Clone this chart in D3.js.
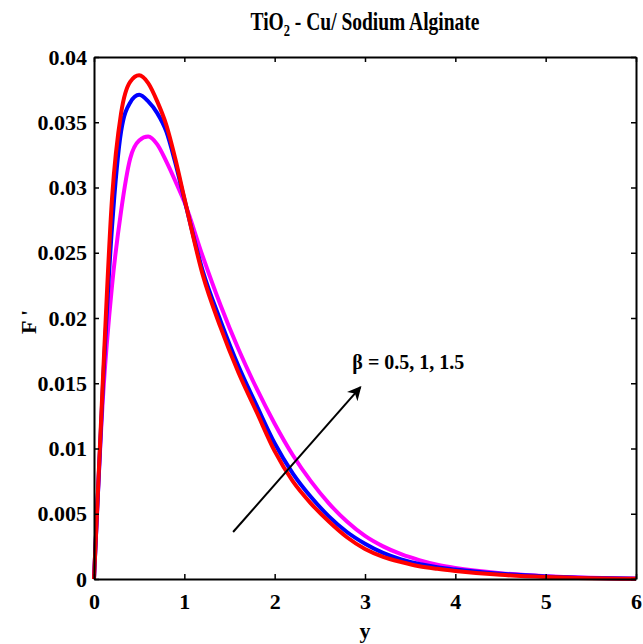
<!DOCTYPE html>
<html>
<head>
<meta charset="utf-8">
<script src="https://cdn.jsdelivr.net/npm/d3@7"></script>
<style>
    body { margin: 0; background: #fff; }
    text { font-family: "Liberation Serif", "DejaVu Serif", serif; font-weight: bold; }
</style>
</head>
<body>
<svg id="drawing_region"></svg>
<script>
// eta values (x axis)
const etas = [0, 0.1, 0.2, 0.3, 0.4, 0.5, 0.6, 0.7, 0.8, 0.9, 1.0, 1.2, 1.4, 1.6, 1.8, 2.0,
    2.2, 2.4, 2.6, 2.8, 3.0, 3.2, 3.4, 3.6, 3.8, 4.0, 4.5, 5.0, 5.5, 6.0];

// F' for beta = 0.5, 1, 1.5
const beta05 = [0, 0.0155, 0.0292, 0.0357, 0.0381, 0.0386, 0.0380, 0.0366, 0.0348, 0.0322, 0.0292,
    0.0234, 0.0193, 0.0158, 0.0128, 0.0098, 0.0075, 0.0058, 0.0044, 0.0032, 0.0023, 0.0017,
    0.0013, 0.00098, 0.00078, 0.00062, 0.00032, 0.00015, 0.00006, 0.00002];
const beta10 = [0, 0.0150, 0.0270, 0.0343, 0.0365, 0.0371, 0.0366, 0.0357, 0.0343, 0.0319, 0.0291,
    0.0237, 0.0198, 0.0163, 0.0133, 0.0104, 0.0081, 0.0063, 0.0048, 0.0036, 0.0027, 0.0020,
    0.0015, 0.00115, 0.0009, 0.00072, 0.0004, 0.0002, 0.00008, 0.00002];
const beta15 = [0, 0.0140, 0.0225, 0.0282, 0.0322, 0.0336, 0.0339, 0.0333, 0.0320, 0.0305, 0.0289,
    0.0248, 0.0210, 0.0176, 0.0146, 0.0119, 0.0095, 0.0075, 0.0058, 0.0044, 0.0033, 0.0025,
    0.0019, 0.00145, 0.0011, 0.00085, 0.00045, 0.00022, 0.0001, 0.00003];

const seriesNames = ["beta15", "beta10", "beta05"];
const seriesColors = ["#ff00ff", "#0000ff", "#ff0000"];

const xTicks = [0, 1, 2, 3, 4, 5, 6];
const xTickLabels = ["0", "1", "2", "3", "4", "5", "6"];
const yTicks = [0, 0.005, 0.01, 0.015, 0.02, 0.025, 0.03, 0.035, 0.04];
const yTickLabels = ["0", "0.005", "0.01", "0.015", "0.02", "0.025", "0.03", "0.035", "0.04"];

const config = {
    width: 643,
    height: 644,
    margin: { top: 57, right: 7, bottom: 65, left: 94 }
};

const svg = d3.select('#drawing_region')
    .attr('width', config.width)
    .attr('height', config.height);

const inner_width = config.width - config.margin.left - config.margin.right;
const inner_height = config.height - config.margin.top - config.margin.bottom;

const chart = svg.append('g')
    .attr('transform', `translate(${config.margin.left}, ${config.margin.top})`);

const xscale = d3.scaleLinear().domain([0, 6]).range([0, inner_width]);
const yscale = d3.scaleLinear().domain([0, 0.04]).range([inner_height, 0]);

// axes, MATLAB style box with ticks inside
const xaxis = d3.axisBottom(xscale).tickValues(xTicks).tickFormat((d, i) => xTickLabels[i])
    .tickSizeInner(-5).tickSizeOuter(0).tickPadding(14);
const yaxis = d3.axisLeft(yscale).tickValues(yTicks).tickFormat((d, i) => yTickLabels[i])
    .tickSizeInner(-5).tickSizeOuter(0).tickPadding(7);
const xaxis_top = d3.axisTop(xscale).tickValues(xTicks).tickSizeInner(-5).tickSizeOuter(0).tickFormat('');
const yaxis_right = d3.axisRight(yscale).tickValues(yTicks).tickSizeInner(-5).tickSizeOuter(0).tickFormat('');

const line = d3.line()
    .x(d => xscale(d[0]))
    .y(d => yscale(d[1]))
    .curve(d3.curveMonotoneX);

const seriesData = { beta05, beta10, beta15 };
seriesNames.forEach((name, i) => {
    chart.append('path')
        .datum(etas.map((e, j) => [e, seriesData[name][j]]))
        .attr('fill', 'none')
        .attr('stroke', seriesColors[i])
        .attr('stroke-width', 4)
        .attr('stroke-linejoin', 'round')
        .attr('d', line);
});

const xg = chart.append('g').attr('transform', `translate(0, ${inner_height})`).call(xaxis);
const yg = chart.append('g').call(yaxis);
const tg = chart.append('g').call(xaxis_top);
const rg = chart.append('g').attr('transform', `translate(${inner_width}, 0)`).call(yaxis_right);

[xg, yg, tg, rg].forEach(g => {
    g.select('.domain').attr('stroke-width', 2);
    g.selectAll('.tick line').attr('stroke-width', 1.5);
    g.selectAll('text').attr('font-size', 22).attr('font-family', null).attr('fill', '#000');
});

// title
const title = svg.append('text')
    .attr('transform', `translate(${config.margin.left + inner_width / 2}, 30) scale(0.78, 1)`)
    .attr('text-anchor', 'middle')
    .attr('font-size', 25);
title.append('tspan').text('TiO');
title.append('tspan').attr('font-size', 16).attr('dy', 6).text('2');
title.append('tspan').attr('dy', -6).text(' - Cu/ Sodium Alginate');

// axis labels
svg.append('text')
    .attr('x', config.margin.left + xscale(3))
    .attr('y', 638)
    .attr('text-anchor', 'middle')
    .attr('font-size', 22)
    .text('y');

svg.append('text')
    .attr('transform', `translate(36, 322) rotate(-90)`)
    .attr('text-anchor', 'middle')
    .attr('font-size', 22)
    .text("F '");

// annotation arrow
svg.append('defs').append('marker')
    .attr('id', 'arrowhead')
    .attr('viewBox', '0 0 10 10')
    .attr('refX', 9).attr('refY', 5)
    .attr('markerWidth', 14).attr('markerHeight', 14)
    .attr('markerUnits', 'userSpaceOnUse')
    .attr('orient', 'auto')
    .append('path')
    .attr('d', 'M0,0 L10,5 L0,10 L3,5 Z')
    .attr('fill', '#000');

chart.append('line')
    .attr('x1', xscale(1.54)).attr('y1', yscale(0.0036))
    .attr('x2', xscale(2.95)).attr('y2', yscale(0.0147))
    .attr('stroke', '#000')
    .attr('stroke-width', 2)
    .attr('marker-end', 'url(#arrowhead)');

chart.append('text')
    .attr('x', xscale(2.86))
    .attr('y', yscale(0.0161))
    .attr('font-size', 20)
    .text('β = 0.5, 1, 1.5');
</script>
</body>
</html>
